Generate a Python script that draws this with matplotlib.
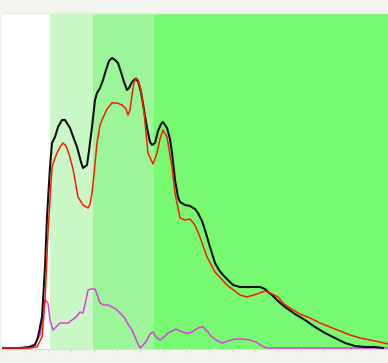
import numpy as np
import matplotlib
matplotlib.use("Agg")
import matplotlib.pyplot as plt

# ── Dados ─────────────────────────────────────────────────
black_x = [0, 18, 28, 33, 36, 40, 43, 45, 48, 50, 53, 56, 60, 63, 68, 72, 75, 79, 81, 85,
           87, 90, 93, 95, 98, 101, 104, 107, 110, 113, 116, 119, 122, 125, 127, 130, 133, 136, 139, 142,
           145, 148, 150, 153, 156, 159, 161, 165, 168, 170, 173, 176, 178, 183, 188, 193, 196, 200, 203, 208,
           213, 217, 221, 226, 231, 238, 245, 252, 258, 263, 266, 270, 276, 283, 293, 303, 313, 323, 333, 343,
           353, 363, 373, 381]
black_y = [1, 1, 2, 4, 12, 32, 82, 132, 182, 206, 212, 222, 229, 229, 221, 210, 202, 187, 181, 184,
           198, 222, 249, 256, 261, 269, 279, 288, 291, 289, 286, 277, 267, 259, 261, 267, 270, 268, 257, 239,
           221, 207, 204, 206, 218, 225, 227, 221, 210, 196, 169, 152, 147, 144, 143, 140, 136, 128, 119, 102,
           86, 79, 74, 69, 64, 62, 62, 62, 62, 60, 57, 54, 48, 42, 35, 29, 22, 16, 11, 6,
           3, 2, 2, 1]

red_x = [0, 28, 35, 40, 43, 46, 48, 50, 52, 55, 58, 61, 64, 67, 71, 76, 81, 86, 88, 90,
         92, 95, 98, 100, 105, 110, 115, 120, 124, 126, 128, 130, 132, 134, 136, 139, 142, 146, 151, 155,
         158, 161, 165, 170, 173, 178, 183, 188, 193, 198, 205, 213, 225, 238, 245, 255, 263, 268, 276, 282,
         288, 298, 308, 318, 328, 338, 348, 358, 368, 378, 386]
red_y = [1, 1, 2, 12, 49, 116, 150, 182, 188, 196, 202, 206, 203, 195, 180, 152, 144, 141, 145, 156,
         175, 206, 224, 229, 240, 246, 246, 244, 240, 234, 239, 254, 267, 271, 269, 259, 237, 196, 185, 196,
         210, 219, 212, 182, 156, 131, 129, 130, 124, 112, 92, 77, 64, 54, 52, 55, 58, 56, 52, 45,
         41, 35, 31, 26, 22, 18, 14, 11, 9, 7, 5]

mag_x = [0, 18, 26, 33, 38, 41, 43, 46, 48, 51, 54, 58, 62, 66, 70, 74, 78, 81, 84, 86,
         89, 93, 96, 98, 102, 106, 110, 114, 118, 122, 126, 130, 133, 136, 138, 142, 145, 148, 151, 154,
         158, 162, 166, 170, 174, 178, 183, 188, 193, 198, 201, 205, 209, 214, 220, 226, 233, 240, 248, 254,
         260, 265, 386]
mag_y = [1, 1, 2, 5, 14, 34, 49, 46, 29, 19, 22, 26, 26, 26, 29, 32, 37, 36, 49, 59,
         60, 60, 52, 46, 44, 44, 42, 40, 36, 32, 25, 19, 12, 5, 1, 5, 9, 15, 17, 12,
         9, 12, 16, 18, 20, 18, 16, 16, 19, 22, 22, 18, 13, 9, 6, 8, 10, 10, 9, 7,
         3, 1, 1]

# faixas de fundo (início, fim, cor)
band_edges = [0, 48, 91, 152, 386]
band_colors = ["#ffffff", "#c9f8c6", "#9cf599", "#77f971"]

fig = plt.figure(figsize=(3.88, 3.63), dpi=100, facecolor="#f3f4ee")
ax = fig.add_axes([2 / 388, 14 / 363, 386 / 388, 336 / 363])
ax.set_facecolor("#ffffff")

for x0, x1, c in zip(band_edges[:-1], band_edges[1:], band_colors):
    ax.axvspan(x0, x1, color=c, lw=0, zorder=0)

ax.plot(mag_x, mag_y, color="#e23be6", lw=1.1, zorder=2)
ax.plot(black_x, black_y, color="#111111", lw=1.5, zorder=3)
ax.plot(red_x, red_y, color="#ff1a00", lw=1.1, zorder=4)

ax.set_xlim(0, 386)
ax.set_ylim(0, 336)
ax.set_yticks([])
ax.set_xticks(np.arange(0, 387, 23))
ax.set_xticklabels([])
ax.tick_params(axis="x", length=2, width=0.6, color="#d4d6cf", direction="out")
for side in ("left", "right"):
    ax.spines[side].set_visible(False)
ax.spines["top"].set_color("#e6eee2")
ax.spines["bottom"].set_color("#dcdcd6")
ax.spines["top"].set_linewidth(1)
ax.spines["bottom"].set_linewidth(0.8)

fig.savefig("out.png", dpi=100, facecolor=fig.get_facecolor())
